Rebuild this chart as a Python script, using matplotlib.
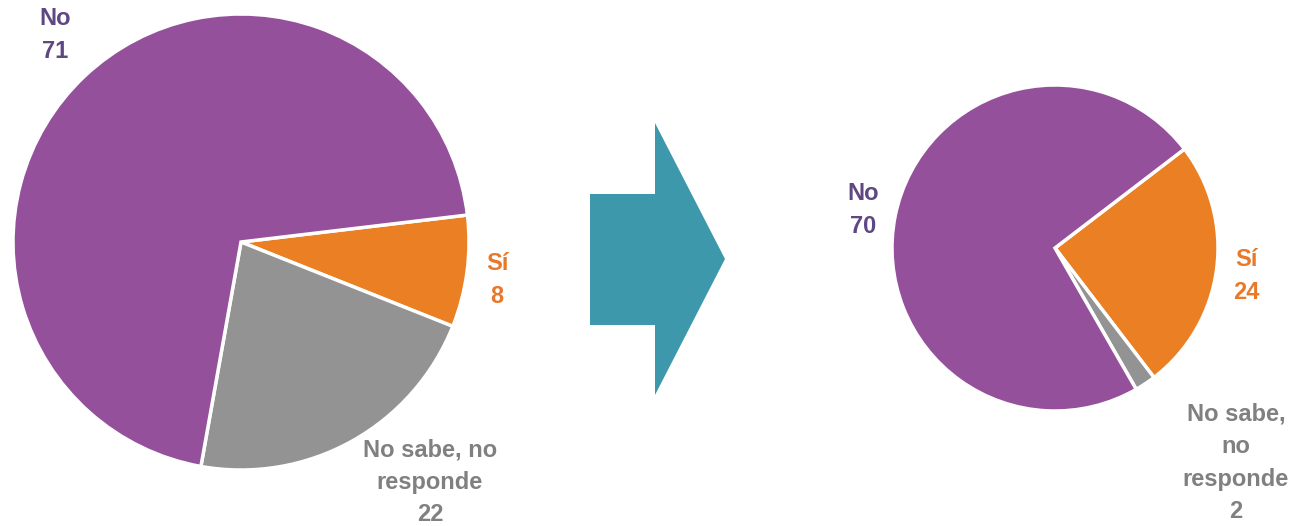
import matplotlib.pyplot as plt
from matplotlib.patches import Polygon

# datos
labels = ['Sí', 'No sabe, no responde', 'No']
antes = [8, 22, 71]
despues = [24, 2, 70]
colores = ['#EB7F23', '#939393', '#95509C']
txt_col = {'No': '#5F4782', 'Sí': '#E8792A', 'ns': '#808080'}

plt.rcParams['font.family'] = ['Liberation Sans Narrow', 'Liberation Sans', 'DejaVu Sans']

W, H = 1290, 526
fig = plt.figure(figsize=(W / 100, H / 100), dpi=100)
ax = fig.add_axes([0, 0, 1, 1])

wp = dict(edgecolor='white', linewidth=2.5)
# pie izquierdo
ax.pie(antes, colors=colores, startangle=6.8, counterclock=False,
       center=(241, H - 242), radius=228, wedgeprops=wp, frame=True)
# pie derecho
ax.pie(despues, colors=colores, startangle=37.4, counterclock=False,
       center=(1055, H - 248), radius=163, wedgeprops=wp, frame=True)
ax.set_xlim(0, W)
ax.set_ylim(0, H)
ax.set_aspect('equal')
ax.axis('off')

# flecha
flecha = [(590, 194), (655, 194), (655, 123), (725, 259), (655, 395), (655, 325), (590, 325)]
ax.add_patch(Polygon([(x, H - y) for x, y in flecha], closed=True, color='#3D98AB', lw=0))

kw = dict(ha='center', va='center', fontsize=17, fontweight='bold', linespacing=1.52)
ax.text(55, H - 35, 'No\n' + str(antes[2]), color=txt_col['No'], **kw)
ax.text(497, H - 280, 'Sí\n' + str(antes[0]), color=txt_col['Sí'], **kw)
ax.text(430, H - 482, 'No sabe, no\nresponde\n' + str(antes[1]), color=txt_col['ns'], **kw)
ax.text(863, H - 210, 'No\n' + str(despues[2]), color=txt_col['No'], **kw)
ax.text(1246, H - 276, 'Sí\n' + str(despues[0]), color=txt_col['Sí'], **kw)
ax.text(1236, H - 463, 'No sabe,\nno\nresponde\n' + str(despues[1]), color=txt_col['ns'], **kw)

fig.savefig('out.png', dpi=100)
